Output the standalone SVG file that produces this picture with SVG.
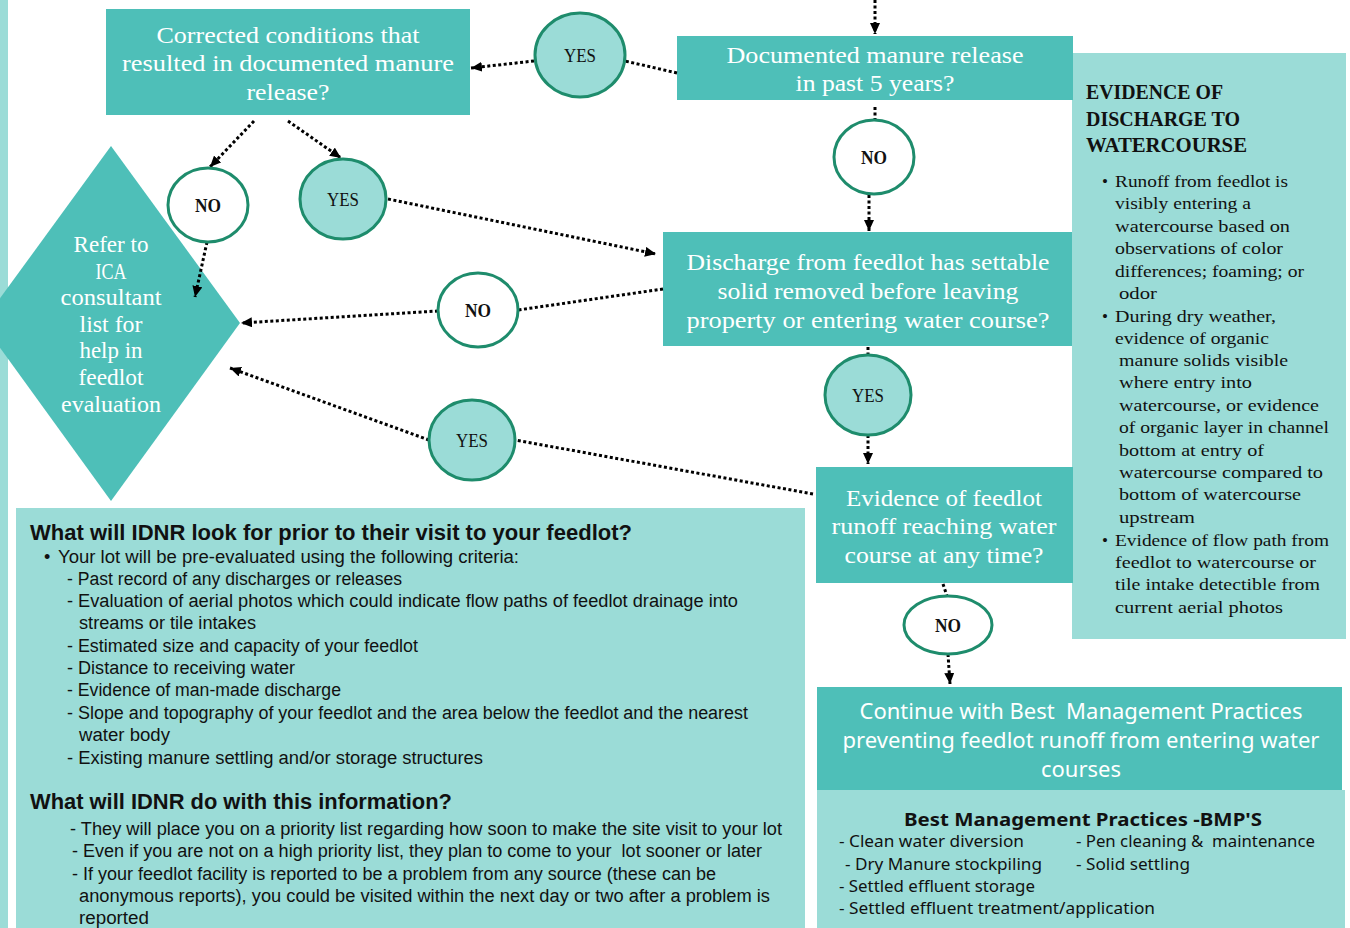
<svg xmlns="http://www.w3.org/2000/svg" width="1350" height="928" viewBox="0 0 1350 928">
<style>
.dk{fill:#4EBFB8}
.lt{fill:#9BDCD7}
.q{font-family:"Liberation Serif",serif;font-size:23px;fill:#fff;text-anchor:middle}
.yes{fill:#9BDCD7;stroke:#1E8C6C;stroke-width:3}
.no{fill:#fff;stroke:#1E8C6C;stroke-width:3}
.lbl{font-family:"Liberation Serif",serif;font-size:18px;fill:#111;text-anchor:middle}
.b{font-weight:bold}
.con{fill:none;stroke:#000;stroke-width:3;stroke-dasharray:3 2.5}
.rp{font-family:"Liberation Serif",serif;font-size:17px;fill:#111}
.rt{font-family:"Liberation Serif",serif;font-size:22px;font-weight:bold;fill:#111}
.bl{font-family:"Liberation Sans",sans-serif;font-size:18px;fill:#111}
.blt{font-family:"Liberation Sans",sans-serif;font-size:22px;font-weight:bold;fill:#111}
.ce{font-family:"Noto Sans",sans-serif;font-size:22px;fill:#fff;text-anchor:middle}
.bm{font-family:"Noto Sans",sans-serif;font-size:17px;fill:#111}
.pre{white-space:pre}
</style>
<defs>
<marker id="ah" markerUnits="userSpaceOnUse" markerWidth="11" markerHeight="10" refX="11" refY="5" orient="auto">
<path d="M0,0 L11,5 L0,10 z" fill="#000"/>
</marker>
</defs>
<rect width="1350" height="928" fill="#fff"/>
<rect x="0" y="0" width="8" height="928" class="lt"/>

<g id="panel-right">
<rect x="1072" y="53" width="274" height="586" class="lt"/>
<text class="rt" x="1086" y="99" textLength="137" lengthAdjust="spacingAndGlyphs">EVIDENCE OF</text>
<text class="rt" x="1086" y="126" textLength="154" lengthAdjust="spacingAndGlyphs">DISCHARGE TO</text>
<text class="rt" x="1086" y="152" textLength="161" lengthAdjust="spacingAndGlyphs">WATERCOURSE</text>
<text class="rp" x="1102" y="187">•</text>
<text class="rp" x="1115" y="187" textLength="173" lengthAdjust="spacingAndGlyphs">Runoff from feedlot is</text>
<text class="rp" x="1115" y="209" textLength="136" lengthAdjust="spacingAndGlyphs">visibly entering a</text>
<text class="rp" x="1115" y="232" textLength="175" lengthAdjust="spacingAndGlyphs">watercourse based on</text>
<text class="rp" x="1115" y="254" textLength="168" lengthAdjust="spacingAndGlyphs">observations of color</text>
<text class="rp" x="1115" y="277" textLength="189" lengthAdjust="spacingAndGlyphs">differences; foaming; or</text>
<text class="rp" x="1119" y="299" textLength="38" lengthAdjust="spacingAndGlyphs">odor</text>
<text class="rp" x="1102" y="322">•</text>
<text class="rp" x="1115" y="322" textLength="161" lengthAdjust="spacingAndGlyphs">During dry weather,</text>
<text class="rp" x="1115" y="344" textLength="154" lengthAdjust="spacingAndGlyphs">evidence of organic</text>
<text class="rp" x="1119" y="366" textLength="169" lengthAdjust="spacingAndGlyphs">manure solids visible</text>
<text class="rp" x="1119" y="388" textLength="133" lengthAdjust="spacingAndGlyphs">where entry into</text>
<text class="rp" x="1119" y="411" textLength="200" lengthAdjust="spacingAndGlyphs">watercourse, or evidence</text>
<text class="rp" x="1119" y="433" textLength="210" lengthAdjust="spacingAndGlyphs">of organic layer in channel</text>
<text class="rp" x="1119" y="456" textLength="145" lengthAdjust="spacingAndGlyphs">bottom at entry of</text>
<text class="rp" x="1119" y="478" textLength="204" lengthAdjust="spacingAndGlyphs">watercourse compared to</text>
<text class="rp" x="1119" y="500" textLength="182" lengthAdjust="spacingAndGlyphs">bottom of watercourse</text>
<text class="rp" x="1119" y="523" textLength="76" lengthAdjust="spacingAndGlyphs">upstream</text>
<text class="rp" x="1102" y="546">•</text>
<text class="rp" x="1115" y="546" textLength="214" lengthAdjust="spacingAndGlyphs">Evidence of flow path from</text>
<text class="rp" x="1115" y="568" textLength="201" lengthAdjust="spacingAndGlyphs">feedlot to watercourse or</text>
<text class="rp" x="1115" y="590" textLength="205" lengthAdjust="spacingAndGlyphs">tile intake detectible from</text>
<text class="rp" x="1115" y="613" textLength="168" lengthAdjust="spacingAndGlyphs">current aerial photos</text>
</g>

<g id="panel-idnr">
<rect x="16" y="508" width="789" height="420" class="lt"/>
<text class="blt" x="30" y="540" textLength="602" lengthAdjust="spacingAndGlyphs">What will IDNR look for prior to their visit to your feedlot?</text>
<text class="bl" x="44" y="563">•</text>
<text class="bl" x="58" y="563" textLength="461" lengthAdjust="spacingAndGlyphs">Your lot will be pre-evaluated using the following criteria:</text>
<text class="bl" x="67" y="585" textLength="335" lengthAdjust="spacingAndGlyphs">- Past record of any discharges or releases</text>
<text class="bl" x="67" y="607" textLength="671" lengthAdjust="spacingAndGlyphs">- Evaluation of aerial photos which could indicate flow paths of feedlot drainage into</text>
<text class="bl" x="79" y="629" textLength="177" lengthAdjust="spacingAndGlyphs">streams or tile intakes</text>
<text class="bl" x="67" y="652" textLength="351" lengthAdjust="spacingAndGlyphs">- Estimated size and capacity of your feedlot</text>
<text class="bl" x="67" y="674" textLength="228" lengthAdjust="spacingAndGlyphs">- Distance to receiving water</text>
<text class="bl" x="67" y="696" textLength="274" lengthAdjust="spacingAndGlyphs">- Evidence of man-made discharge</text>
<text class="bl" x="67" y="719" textLength="681" lengthAdjust="spacingAndGlyphs">- Slope and topography of your feedlot and the area below the feedlot and the nearest</text>
<text class="bl" x="79" y="741" textLength="91" lengthAdjust="spacingAndGlyphs">water body</text>
<text class="bl" x="67" y="764" textLength="416" lengthAdjust="spacingAndGlyphs">- Existing manure settling and/or storage structures</text>
<text class="blt" x="30" y="809" textLength="422" lengthAdjust="spacingAndGlyphs">What will IDNR do with this information?</text>
<text class="bl" x="70" y="835" textLength="712" lengthAdjust="spacingAndGlyphs">- They will place you on a priority list regarding how soon to make the site visit to your lot</text>
<text class="bl pre" x="72" y="857" textLength="690" lengthAdjust="spacingAndGlyphs">- Even if you are not on a high priority list, they plan to come to your  lot sooner or later</text>
<text class="bl" x="72" y="880" textLength="644" lengthAdjust="spacingAndGlyphs">- If your feedlot facility is reported to be a problem from any source (these can be</text>
<text class="bl" x="79" y="902" textLength="691" lengthAdjust="spacingAndGlyphs">anonymous reports), you could be visited within the next day or two after a problem is</text>
<text class="bl" x="79" y="924" textLength="70" lengthAdjust="spacingAndGlyphs">reported</text>
</g>

<g id="node-refer">
<polygon points="111,146 240,323 111,501 -18,323" class="dk"/>
<text class="q" font-size="21" x="111" y="252" textLength="75" lengthAdjust="spacingAndGlyphs">Refer to</text>
<text class="q" font-size="21" x="111" y="279" textLength="31" lengthAdjust="spacingAndGlyphs">ICA</text>
<text class="q" font-size="21" x="111" y="305" textLength="101" lengthAdjust="spacingAndGlyphs">consultant</text>
<text class="q" font-size="21" x="111" y="332" textLength="63" lengthAdjust="spacingAndGlyphs">list for</text>
<text class="q" font-size="21" x="111" y="358" textLength="63" lengthAdjust="spacingAndGlyphs">help in</text>
<text class="q" font-size="21" x="111" y="385" textLength="65" lengthAdjust="spacingAndGlyphs">feedlot</text>
<text class="q" font-size="21" x="111" y="412" textLength="100" lengthAdjust="spacingAndGlyphs">evaluation</text>
</g>

<g id="node-corrected">
<rect x="106" y="9" width="364" height="106" class="dk"/>
<text class="q" font-size="22" x="288" y="43" textLength="263" lengthAdjust="spacingAndGlyphs">Corrected conditions that</text>
<text class="q" font-size="22" x="288" y="71" textLength="332" lengthAdjust="spacingAndGlyphs">resulted in documented manure</text>
<text class="q" font-size="22" x="288" y="100" textLength="83" lengthAdjust="spacingAndGlyphs">release?</text>
</g>

<g id="node-documented">
<rect x="677" y="36" width="396" height="64" class="dk"/>
<text class="q" x="875" y="63" textLength="297" lengthAdjust="spacingAndGlyphs">Documented manure release</text>
<text class="q" x="875" y="91" textLength="159" lengthAdjust="spacingAndGlyphs">in past 5 years?</text>
</g>

<g id="node-discharge">
<rect x="663" y="232" width="409" height="114" class="dk"/>
<text class="q" font-size="24" x="868" y="270" textLength="363" lengthAdjust="spacingAndGlyphs">Discharge from feedlot has settable</text>
<text class="q" font-size="24" x="868" y="299" textLength="301" lengthAdjust="spacingAndGlyphs">solid removed before leaving</text>
<text class="q" font-size="24" x="868" y="328" textLength="363" lengthAdjust="spacingAndGlyphs">property or entering water course?</text>
</g>

<g id="node-evidence">
<rect x="816" y="467" width="257" height="116" class="dk"/>
<text class="q" font-size="24" x="944" y="506" textLength="196" lengthAdjust="spacingAndGlyphs">Evidence of feedlot</text>
<text class="q" font-size="24" x="944" y="534" textLength="225" lengthAdjust="spacingAndGlyphs">runoff reaching water</text>
<text class="q" font-size="24" x="944" y="563" textLength="199" lengthAdjust="spacingAndGlyphs">course at any time?</text>
</g>

<g id="node-continue">
<rect x="817" y="687" width="525" height="103" class="dk"/>
<text class="ce pre" x="1081" y="719" textLength="443" lengthAdjust="spacingAndGlyphs">Continue with Best  Management Practices</text>
<text class="ce" x="1081" y="748" textLength="477" lengthAdjust="spacingAndGlyphs">preventing feedlot runoff from entering water</text>
<text class="ce" x="1081" y="777" textLength="80" lengthAdjust="spacingAndGlyphs">courses</text>
</g>

<g id="panel-bmp">
<rect x="817" y="790" width="528" height="138" class="lt"/>
<text class="bm b" x="1083" y="826" text-anchor="middle" font-size="20" textLength="358" lengthAdjust="spacingAndGlyphs">Best Management Practices -BMP'S</text>
<text class="bm" x="839" y="847" textLength="185" lengthAdjust="spacingAndGlyphs">- Clean water diversion</text>
<text class="bm pre" x="1076" y="847" textLength="239" lengthAdjust="spacingAndGlyphs">- Pen cleaning &amp;  maintenance</text>
<text class="bm" x="845" y="870" textLength="197" lengthAdjust="spacingAndGlyphs">- Dry Manure stockpiling</text>
<text class="bm" x="1076" y="870" textLength="114" lengthAdjust="spacingAndGlyphs">- Solid settling</text>
<text class="bm" x="839" y="892" textLength="196" lengthAdjust="spacingAndGlyphs">- Settled effluent storage</text>
<text class="bm" x="839" y="914" textLength="316" lengthAdjust="spacingAndGlyphs">- Settled effluent treatment/application</text>
</g>

<g id="connectors">
<path class="con" d="M875,0 L875,34" marker-end="url(#ah)"/>
<path class="con" d="M677,73 L625,61"/>
<path class="con" d="M534,61 L471,68" marker-end="url(#ah)"/>
<path class="con" d="M254,121 L210,167" marker-end="url(#ah)"/>
<path class="con" d="M288,121 L341,158" marker-end="url(#ah)"/>
<path class="con" d="M388,199 L656,254" marker-end="url(#ah)"/>
<path class="con" d="M207,242 L195,297" marker-end="url(#ah)"/>
<path class="con" d="M875,107 L875,120"/>
<path class="con" d="M869,195 L869,231" marker-end="url(#ah)"/>
<path class="con" d="M663,289 L518,310"/>
<path class="con" d="M438,311 L241,323" marker-end="url(#ah)"/>
<path class="con" d="M868,347 L868,355"/>
<path class="con" d="M868,435 L868,464" marker-end="url(#ah)"/>
<path class="con" d="M813,494 L515,440"/>
<path class="con" d="M429,440 L230,368" marker-end="url(#ah)"/>
<path class="con" d="M943,584 L947,596"/>
<path class="con" d="M948,654 L950,684" marker-end="url(#ah)"/>
</g>

<g id="node-yes1"><ellipse cx="580" cy="55" rx="45" ry="42" class="yes"/><text class="lbl" x="580" y="62" textLength="32" lengthAdjust="spacingAndGlyphs">YES</text></g>
<g id="node-no1"><ellipse cx="874" cy="157" rx="40" ry="37" class="no"/><text class="lbl b" x="874" y="164" textLength="26" lengthAdjust="spacingAndGlyphs">NO</text></g>
<g id="node-no2"><ellipse cx="208" cy="205" rx="40" ry="37" class="no"/><text class="lbl b" x="208" y="212" textLength="26" lengthAdjust="spacingAndGlyphs">NO</text></g>
<g id="node-yes2"><ellipse cx="343" cy="199" rx="43" ry="40" class="yes"/><text class="lbl" x="343" y="206" textLength="32" lengthAdjust="spacingAndGlyphs">YES</text></g>
<g id="node-no3"><ellipse cx="478" cy="310" rx="40" ry="37" class="no"/><text class="lbl b" x="478" y="317" textLength="26" lengthAdjust="spacingAndGlyphs">NO</text></g>
<g id="node-yes3"><ellipse cx="868" cy="395" rx="43" ry="40" class="yes"/><text class="lbl" x="868" y="402" textLength="32" lengthAdjust="spacingAndGlyphs">YES</text></g>
<g id="node-yes4"><ellipse cx="472" cy="440" rx="43" ry="40" class="yes"/><text class="lbl" x="472" y="447" textLength="32" lengthAdjust="spacingAndGlyphs">YES</text></g>
<g id="node-no4"><ellipse cx="948" cy="625" rx="44" ry="29" class="no"/><text class="lbl b" x="948" y="632" textLength="26" lengthAdjust="spacingAndGlyphs">NO</text></g>
</svg>
